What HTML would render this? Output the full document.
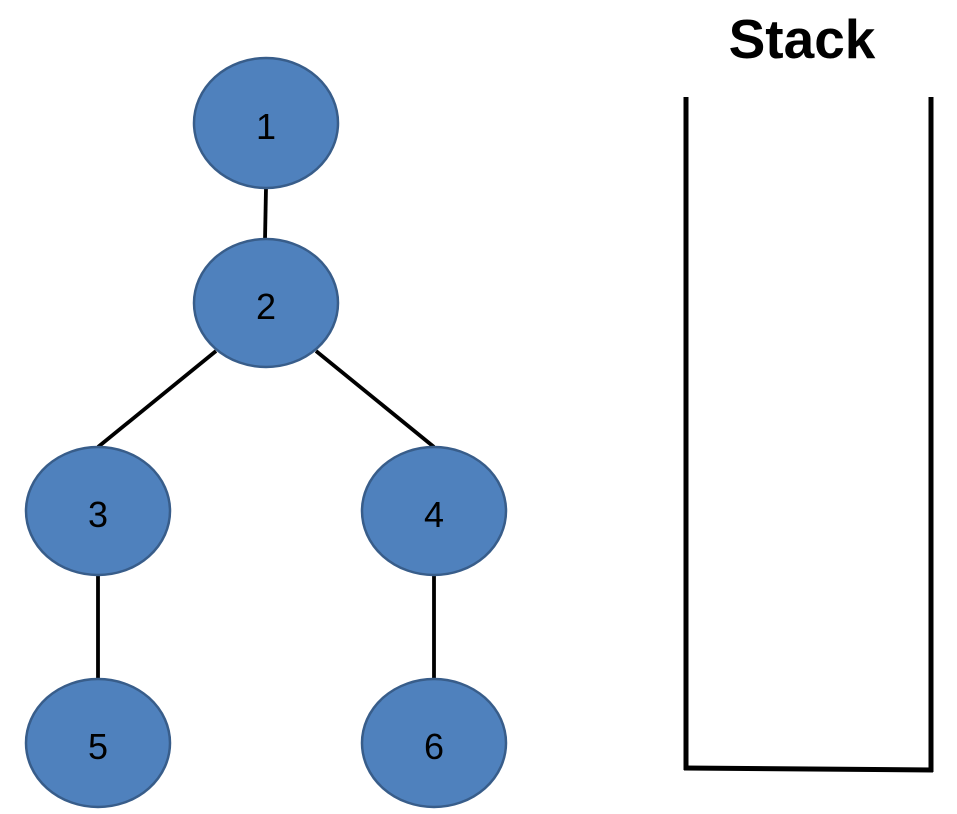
<!DOCTYPE html>
<html><head><meta charset="utf-8"><style>
html,body{margin:0;padding:0;background:#fff;}
svg{display:block;}
</style></head><body>
<svg width="957" height="814" viewBox="0 0 957 814" xmlns="http://www.w3.org/2000/svg">
<g stroke="#000" stroke-width="3.8" fill="none">
<line x1="266" y1="188" x2="265" y2="240"/>
<line x1="216" y1="351" x2="98" y2="447"/>
<line x1="316" y1="351" x2="434" y2="447"/>
<line x1="98" y1="575" x2="98" y2="679"/>
<line x1="434" y1="575" x2="434" y2="679"/>
</g>
<g fill="#4f81bd" stroke="#385d8a" stroke-width="2.5">
<ellipse cx="266" cy="123" rx="72" ry="65"/>
<ellipse cx="266" cy="303" rx="72" ry="64"/>
<ellipse cx="98" cy="511" rx="72" ry="64"/>
<ellipse cx="434" cy="511" rx="72" ry="64"/>
<ellipse cx="98" cy="743" rx="72" ry="64"/>
<ellipse cx="434" cy="743" rx="72" ry="64"/>
</g>
<g font-family="Liberation Sans, sans-serif" font-size="36" fill="#000" text-anchor="middle">
<text x="266" y="139">1</text>
<text x="266" y="319">2</text>
<text x="98" y="527">3</text>
<text x="434" y="527">4</text>
<text x="98" y="759">5</text>
<text x="434" y="759">6</text>
</g>
<text x="802" y="58" font-family="Liberation Sans, sans-serif" font-size="55" font-weight="bold" text-anchor="middle">Stack</text>
<g stroke="#000" stroke-width="5" fill="none">
<line x1="686" y1="97" x2="686" y2="770"/>
<line x1="931" y1="97" x2="931" y2="772"/>
<line x1="684" y1="768" x2="933" y2="770"/>
</g>
</svg>
</body></html>
